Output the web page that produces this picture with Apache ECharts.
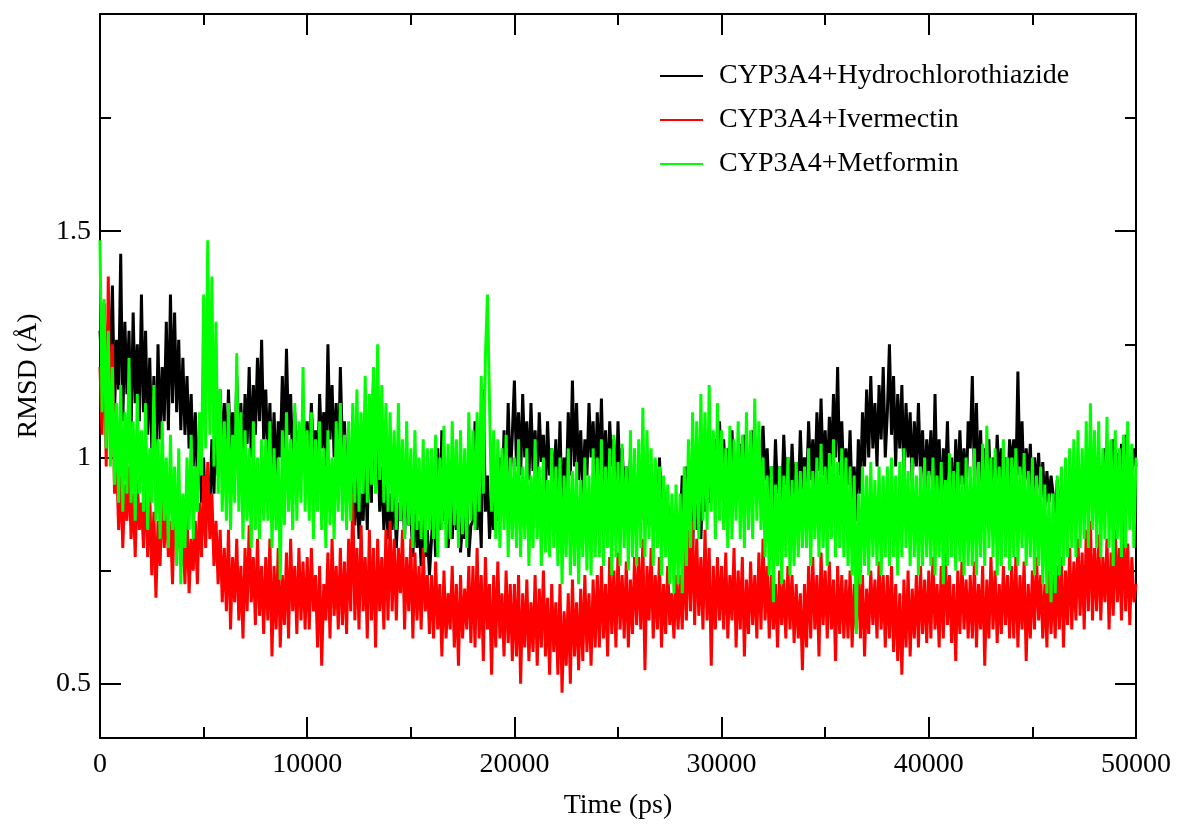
<!DOCTYPE html>
<html><head><meta charset="utf-8">
<script src="https://cdn.jsdelivr.net/npm/echarts@6/dist/echarts.min.js"></script>
<style>html,body{margin:0;padding:0;background:#fff}#c{width:1177px;height:825px}</style>
</head><body><div id="c"></div>
<script>
const seriesNames = ['CYP3A4+Hydrochlorothiazide', 'CYP3A4+Ivermectin', 'CYP3A4+Metformin'];
const timeStepPs = 100;
const hydrochlorothiazide = [
1.28,1.18,1.34,1.12,1.30,1.22,1.38,1.10,1.26,1.15,1.45,1.08,1.30,1.14,1.28,1.06,1.32,1.12,1.25,1.08,
1.36,1.10,1.28,1.05,1.22,1.02,1.18,0.98,1.25,1.04,1.20,1.08,1.30,1.06,1.36,1.12,1.32,1.10,1.26,1.06,
1.22,1.05,1.18,1.02,1.14,0.98,1.10,0.95,1.05,0.90,1.00,0.86,0.96,0.88,1.04,0.92,1.10,0.96,1.15,1.00,
1.12,0.98,1.15,1.00,1.10,0.96,1.18,1.02,1.12,0.97,1.14,1.03,1.20,1.00,1.16,1.05,1.22,1.08,1.26,1.04,
1.15,1.00,1.12,0.96,1.10,0.94,1.08,1.00,1.18,1.02,1.24,1.05,1.14,0.98,1.10,0.92,1.06,0.96,1.12,1.00,
1.08,0.96,1.12,1.00,1.06,0.94,1.14,1.02,1.10,0.98,1.25,1.04,1.16,1.00,1.12,0.96,1.20,1.02,1.08,0.92,
0.98,0.88,1.02,0.85,0.96,0.82,0.92,0.86,1.00,0.84,1.10,0.90,1.18,0.95,1.05,0.88,0.98,0.84,0.94,0.82,
0.92,0.84,0.96,0.80,0.90,0.86,0.94,0.82,0.98,0.85,0.88,0.78,0.92,0.80,0.86,0.76,0.90,0.78,0.84,0.74,
0.82,0.90,0.78,1.02,0.84,1.06,0.86,0.92,0.80,0.88,0.82,0.93,0.84,0.90,0.79,0.86,0.82,0.91,0.78,0.85,
0.86,1.08,0.84,0.92,0.80,1.15,0.88,0.96,0.82,0.90,0.84,0.94,0.86,1.00,0.88,1.06,0.92,1.12,0.95,1.05,
1.17,0.98,1.10,0.96,1.14,1.00,1.08,0.95,1.12,0.97,1.06,0.94,1.10,0.99,1.05,0.92,1.08,0.96,1.02,0.94,
1.04,0.90,1.08,0.86,1.00,0.92,1.10,0.96,1.17,0.98,1.12,0.95,1.06,0.92,1.04,0.96,1.12,1.00,1.08,0.94,
1.10,0.96,1.13,0.94,1.06,0.92,1.08,0.98,1.04,0.90,1.08,0.94,1.02,0.92,0.98,0.90,1.00,0.88,0.96,0.90,
0.92,0.86,0.96,0.88,0.94,0.85,0.98,0.90,0.92,0.86,1.00,0.88,0.94,0.84,0.90,0.82,0.88,0.80,0.86,0.82,
0.84,0.96,0.82,0.98,0.86,0.92,0.80,0.95,0.84,0.90,0.82,0.96,0.88,1.00,0.90,0.98,0.92,1.04,0.94,1.08,
0.96,1.04,0.94,1.02,0.92,1.06,0.95,1.00,0.93,1.03,0.96,1.05,0.92,0.99,0.94,1.06,0.96,1.02,0.93,1.00,
1.07,0.95,1.02,0.90,0.98,0.88,1.04,0.92,0.98,0.90,1.05,0.94,1.00,0.89,1.03,0.92,0.99,0.90,1.06,0.93,
1.00,0.92,1.08,0.95,1.04,0.93,1.10,0.97,1.13,0.96,1.06,0.94,1.09,0.98,1.14,1.00,1.20,0.96,1.08,0.94,
1.02,0.94,1.06,0.90,0.98,0.86,1.04,0.92,1.10,0.98,1.15,1.00,1.18,1.02,1.12,0.98,1.16,1.04,1.20,1.00,
1.10,1.25,1.05,1.18,0.98,1.14,1.02,1.16,0.96,1.12,1.00,1.10,0.94,1.08,0.98,1.12,0.96,1.06,0.92,1.04,
0.96,1.06,0.90,1.14,0.92,1.04,0.88,1.02,0.94,1.08,0.90,1.00,0.86,1.04,0.92,1.06,0.94,1.02,0.90,1.08,
1.02,1.18,0.96,1.12,0.92,1.06,0.88,1.02,0.94,1.04,0.90,1.00,0.92,1.05,0.95,1.02,0.93,1.00,0.90,1.04,
0.98,1.04,0.94,1.19,0.96,1.08,0.92,1.02,0.95,1.03,0.90,1.00,0.93,1.01,0.91,0.99,0.89,0.97,0.90,0.96,
0.92,0.86,0.95,0.88,0.93,0.85,0.91,0.87,0.94,0.86,0.90,0.88,0.95,0.89,0.97,0.90,0.96,0.92,0.98,0.90,
0.95,1.00,0.92,0.98,0.94,1.02,0.90,0.99,0.93,1.04,0.95,1.01,0.92,1.03,0.96,1.05,0.94,1.00,0.97,1.02,
0.98];
const ivermectin = [
1.20,1.05,1.32,0.98,1.40,1.02,1.25,0.92,1.00,0.84,0.96,0.80,0.94,0.86,0.98,0.82,0.92,0.78,0.95,0.84,
0.90,0.80,0.96,0.78,0.92,0.74,0.88,0.69,0.86,0.76,0.94,0.80,0.90,0.78,0.86,0.72,0.92,0.80,0.88,0.76,
0.84,0.72,0.88,0.70,0.82,0.75,0.86,0.72,0.90,0.78,0.96,0.80,0.99,0.82,0.92,0.76,0.86,0.72,0.84,0.68,
0.80,0.66,0.84,0.62,0.78,0.68,0.82,0.64,0.76,0.60,0.80,0.66,0.85,0.68,0.78,0.63,0.82,0.65,0.76,0.61,
0.78,0.64,0.82,0.56,0.76,0.62,0.80,0.58,0.74,0.63,0.79,0.60,0.82,0.66,0.76,0.61,0.80,0.64,0.77,0.62,
0.78,0.62,0.80,0.66,0.74,0.58,0.76,0.54,0.72,0.64,0.79,0.60,0.82,0.65,0.76,0.62,0.80,0.63,0.77,0.61,
0.82,0.66,0.92,0.64,0.80,0.62,0.85,0.66,0.78,0.60,0.84,0.64,0.80,0.58,0.82,0.66,0.78,0.62,0.84,0.64,
0.86,0.66,0.82,0.64,0.80,0.70,0.84,0.62,0.78,0.66,0.82,0.60,0.79,0.64,0.76,0.62,0.80,0.66,0.74,0.61,
0.74,0.60,0.77,0.62,0.72,0.56,0.75,0.60,0.70,0.62,0.76,0.58,0.72,0.54,0.74,0.60,0.71,0.62,0.76,0.59,
0.76,0.58,0.80,0.60,0.74,0.55,0.78,0.62,0.72,0.52,0.74,0.58,0.77,0.60,0.70,0.56,0.75,0.59,0.72,0.55,
0.72,0.56,0.74,0.50,0.70,0.58,0.73,0.55,0.68,0.57,0.74,0.54,0.71,0.58,0.75,0.56,0.69,0.52,0.72,0.57,
0.68,0.52,0.72,0.48,0.66,0.54,0.70,0.50,0.73,0.56,0.68,0.53,0.71,0.55,0.74,0.57,0.70,0.54,0.73,0.58,
0.74,0.58,0.76,0.60,0.72,0.56,0.78,0.61,0.75,0.58,0.79,0.62,0.74,0.60,0.77,0.58,0.73,0.61,0.78,0.63,
0.78,0.62,0.82,0.53,0.76,0.64,0.80,0.60,0.74,0.62,0.78,0.58,0.72,0.61,0.76,0.63,0.70,0.60,0.74,0.62,
0.74,0.62,0.80,0.64,0.84,0.66,0.86,0.63,0.82,0.65,0.78,0.62,0.84,0.64,0.80,0.54,0.76,0.62,0.78,0.64,
0.76,0.62,0.79,0.60,0.74,0.64,0.80,0.58,0.75,0.62,0.78,0.56,0.73,0.61,0.77,0.63,0.74,0.60,0.79,0.62,
0.82,0.64,0.76,0.60,0.74,0.62,0.72,0.58,0.75,0.63,0.73,0.60,0.76,0.62,0.74,0.59,0.72,0.60,0.70,0.53,
0.72,0.58,0.76,0.60,0.78,0.62,0.74,0.56,0.79,0.63,0.75,0.60,0.77,0.62,0.73,0.55,0.76,0.61,0.74,0.60,
0.73,0.60,0.75,0.58,0.72,0.62,0.76,0.60,0.74,0.56,0.71,0.61,0.75,0.63,0.73,0.60,0.77,0.62,0.74,0.58,
0.74,0.60,0.76,0.57,0.72,0.55,0.70,0.52,0.73,0.58,0.75,0.56,0.71,0.60,0.74,0.58,0.76,0.61,0.73,0.59,
0.75,0.60,0.78,0.62,0.72,0.58,0.76,0.60,0.79,0.63,0.74,0.59,0.72,0.55,0.75,0.61,0.77,0.62,0.73,0.60,
0.74,0.60,0.77,0.58,0.72,0.62,0.76,0.54,0.73,0.60,0.78,0.62,0.75,0.59,0.72,0.61,0.76,0.63,0.74,0.60,
0.76,0.60,0.78,0.58,0.74,0.62,0.77,0.55,0.72,0.60,0.75,0.62,0.78,0.64,0.74,0.60,0.72,0.58,0.76,0.61,
0.74,0.60,0.76,0.62,0.78,0.58,0.75,0.63,0.80,0.62,0.77,0.64,0.82,0.65,0.79,0.62,0.84,0.66,0.86,0.64,
0.80,0.66,0.83,0.64,0.78,0.68,0.82,0.62,0.79,0.65,0.84,0.68,0.80,0.64,0.86,0.66,0.81,0.63,0.78,0.68,
0.72];
const metformin = [
1.48,1.10,1.35,1.02,1.28,0.98,1.20,0.94,1.12,0.90,1.16,0.88,1.10,0.92,1.22,0.90,1.08,0.86,1.14,0.92,
1.06,0.88,1.12,0.84,1.02,0.90,1.16,0.86,1.04,0.82,1.08,0.86,1.00,0.80,1.05,0.84,0.98,0.76,1.02,0.72,
0.92,0.80,1.00,0.84,1.05,0.82,0.98,0.88,1.10,0.96,1.36,1.02,1.48,1.05,1.40,0.98,1.30,0.92,1.15,0.88,
1.08,0.86,1.12,0.84,1.05,0.90,1.23,0.88,1.10,0.82,1.06,0.86,1.02,0.80,1.08,0.84,1.00,0.82,1.04,0.86,
1.04,0.86,1.08,0.80,1.02,0.84,1.00,0.73,1.06,0.85,1.10,0.88,1.04,0.84,1.12,0.86,1.08,0.90,1.20,0.88,
1.06,0.86,1.10,0.82,1.04,0.88,1.08,0.84,1.02,0.80,1.06,0.85,1.00,0.82,1.08,0.88,1.12,0.86,1.05,0.84,
1.08,0.86,1.12,0.90,1.15,0.88,1.10,0.92,1.18,0.90,1.14,0.94,1.20,0.92,1.25,0.95,1.16,0.90,1.12,0.88,
1.10,0.88,1.06,0.84,1.12,0.86,1.04,0.82,1.08,0.85,1.02,0.80,1.06,0.84,1.00,0.82,1.04,0.79,1.02,0.84,
1.02,0.82,1.05,0.78,1.00,0.84,1.07,0.80,1.03,0.82,1.08,0.85,1.04,0.80,1.06,0.83,1.02,0.80,1.10,0.86,
1.06,0.84,1.10,0.88,1.18,0.92,1.22,1.36,1.12,0.88,1.06,0.82,1.04,0.80,1.02,0.84,1.05,0.78,1.00,0.82,
1.00,0.80,1.04,0.78,0.98,0.82,1.02,0.76,0.96,0.80,1.04,0.82,0.98,0.76,1.00,0.79,0.95,0.78,1.02,0.80,
0.98,0.76,1.00,0.72,0.96,0.78,1.02,0.74,0.97,0.76,0.99,0.72,0.95,0.78,1.00,0.75,0.96,0.74,1.02,0.78,
1.00,0.78,1.04,0.76,0.98,0.80,1.02,0.74,1.05,0.78,0.99,0.76,1.03,0.80,0.98,0.75,1.06,0.78,1.02,0.76,
1.04,0.80,1.11,0.78,1.06,0.82,1.02,0.76,1.00,0.80,0.98,0.74,0.96,0.78,0.94,0.72,0.92,0.70,0.94,0.72,
0.92,0.70,0.98,0.76,1.04,0.80,1.10,0.84,1.08,0.82,1.14,0.86,1.10,0.84,1.16,0.88,1.06,0.82,1.12,0.86,
1.06,0.84,1.02,0.80,1.07,0.82,1.04,0.86,1.08,0.82,1.05,0.80,1.10,0.84,1.06,0.82,1.13,0.86,1.08,0.84,
1.00,0.78,0.96,0.74,0.98,0.68,0.94,0.76,0.98,0.72,0.96,0.78,1.00,0.74,0.95,0.76,0.99,0.78,0.97,0.80,
0.98,0.80,1.02,0.76,0.97,0.82,1.00,0.78,1.03,0.80,0.98,0.76,1.01,0.82,1.04,0.78,0.99,0.80,1.02,0.78,
1.00,0.76,0.98,0.74,0.96,0.61,0.92,0.72,0.98,0.76,0.96,0.74,0.99,0.78,0.95,0.76,0.98,0.74,0.96,0.78,
0.98,0.76,1.00,0.78,0.96,0.74,0.99,0.78,1.02,0.80,0.97,0.76,1.00,0.78,0.96,0.74,0.98,0.76,1.00,0.78,
0.97,0.76,1.00,0.74,0.96,0.78,0.99,0.72,0.95,0.76,1.01,0.78,0.97,0.75,0.99,0.77,0.96,0.74,1.00,0.76,
0.98,0.76,1.02,0.74,0.99,0.78,1.03,0.76,1.07,0.80,1.00,0.78,1.02,0.74,0.98,0.76,1.04,0.78,1.00,0.75,
1.00,0.78,1.02,0.76,0.98,0.80,1.01,0.76,0.97,0.78,1.00,0.74,0.96,0.76,0.98,0.72,0.94,0.70,0.92,0.68,
0.92,0.70,0.96,0.74,0.98,0.76,1.00,0.78,1.02,0.80,1.04,0.78,1.06,0.80,1.02,0.82,1.08,0.80,1.12,0.84,
1.06,0.80,1.08,0.78,1.02,0.82,1.09,0.80,1.04,0.76,1.06,0.82,1.02,0.78,1.05,0.80,1.08,0.84,1.03,0.80,
1.00];
const seriesColors = ['#000000', '#ff0000', '#00ff00'];
const xMajorTicks = [0, 10000, 20000, 30000, 40000, 50000];
const xMinorTicks = [5000, 15000, 25000, 35000, 45000];
const yMajorTicks = [0.5, 1, 1.5];
const yMinorTicks = [0.75, 1.25, 1.75];
const xTitle = 'Time (ps)';
const yTitle = 'RMSD (Å)';

const FONT = "'Liberation Serif', 'Times New Roman', serif";
const FS = 28;
const X_MIN = 0, X_MAX = 50000, Y_MIN = 0.38, Y_MAX = 1.98;
const black = '#000';

function toPairs(vals) { return vals.map((v, i) => [i * timeStepPs, v]); }

function axis(kind, position, opts) {
  const base = {
    type: 'value', position: position,
    min: kind === 'x' ? X_MIN : Y_MIN, max: kind === 'x' ? X_MAX : Y_MAX,
    splitLine: { show: false },
    axisLine: { show: !!opts.line, onZero: false, lineStyle: { color: black, width: 2 } },
    axisTick: { show: true, inside: true, length: opts.len, customValues: opts.ticks, lineStyle: { color: black, width: 2 } },
    axisLabel: { show: false }
  };
  if (opts.labels) {
    base.axisLabel = { show: true, customValues: opts.ticks, formatter: v => String(v),
      color: black, fontFamily: FONT, fontSize: FS, margin: opts.margin };
  }
  if (opts.name) {
    Object.assign(base, { name: opts.name, nameLocation: 'middle', nameGap: opts.nameGap,
      nameTextStyle: { color: black, fontFamily: FONT, fontSize: FS } });
  }
  return base;
}

const chart = echarts.init(document.getElementById('c'), null, { renderer: 'canvas' });
chart.setOption({
  animation: false,
  backgroundColor: '#fff',
  grid: { left: 100, right: 41, top: 14, bottom: 86, containLabel: false },
  xAxis: [
    axis('x', 'bottom', { line: true, len: 21, ticks: xMajorTicks, labels: true, margin: 13, name: xTitle, nameGap: 54 }),
    axis('x', 'bottom', { len: 11, ticks: xMinorTicks }),
    axis('x', 'top', { line: true, len: 21, ticks: xMajorTicks }),
    axis('x', 'top', { len: 11, ticks: xMinorTicks })
  ],
  yAxis: [
    axis('y', 'left', { line: true, len: 21, ticks: yMajorTicks, labels: true, margin: 9, name: yTitle, nameGap: 57 }),
    axis('y', 'left', { len: 11, ticks: yMinorTicks }),
    axis('y', 'right', { line: true, len: 21, ticks: yMajorTicks }),
    axis('y', 'right', { len: 11, ticks: yMinorTicks })
  ],
  legend: {
    orient: 'vertical', left: 655, top: 56,
    icon: 'rect', itemWidth: 43, itemHeight: 2, itemGap: 14,
    textStyle: { color: black, fontFamily: FONT, fontSize: FS, lineHeight: 30, padding: [0, 0, 0, 11] },
    data: seriesNames
  },
  series: [hydrochlorothiazide, ivermectin, metformin].map((vals, i) => ({
    name: seriesNames[i], type: 'line', data: toPairs(vals),
    xAxisIndex: 0, yAxisIndex: 0,
    symbol: 'none', showSymbol: false, silent: true,
    color: seriesColors[i],
    itemStyle: { color: seriesColors[i] },
    lineStyle: { color: seriesColors[i], width: 3, join: 'bevel' }
  }))
});
</script>
</body></html>
